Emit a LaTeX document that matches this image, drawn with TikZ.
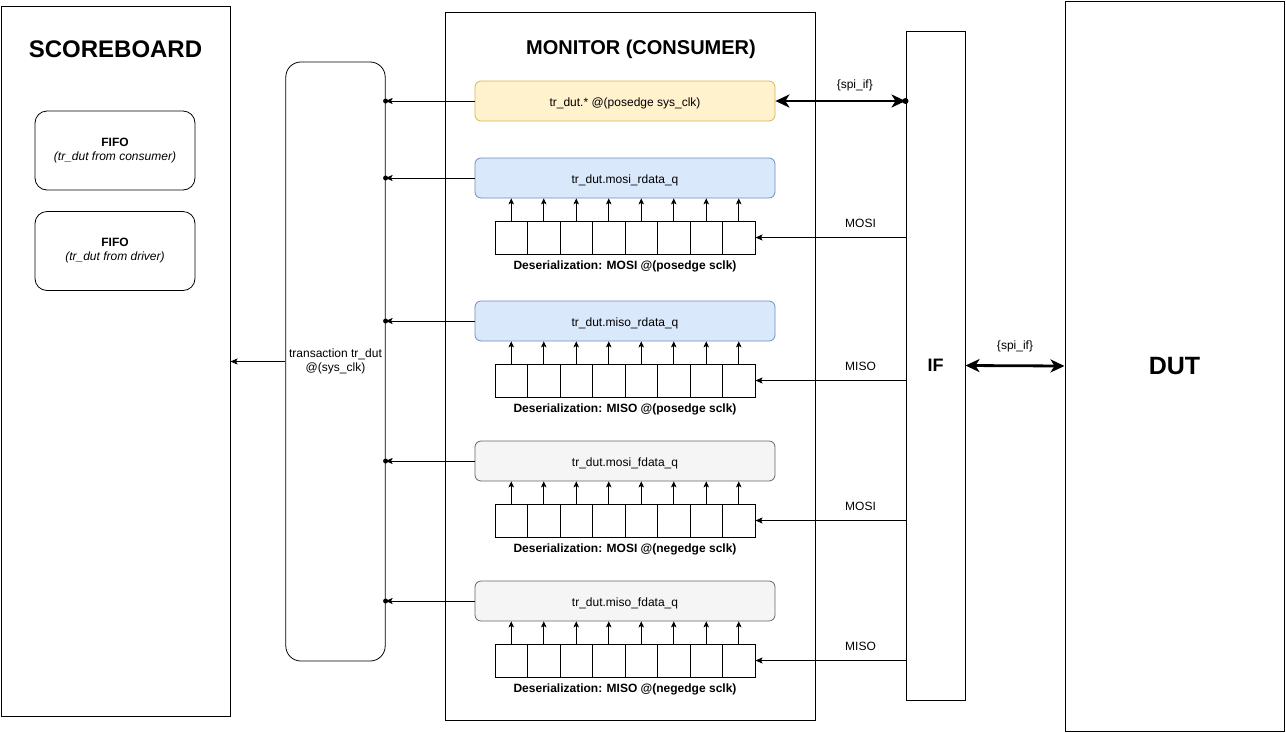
\documentclass[tikz,border=0pt]{standalone}
\usepackage{fontspec}
\setmainfont{Liberation Sans}
\usepackage{tikz}
\usetikzlibrary{arrows.meta}
\definecolor{yelfill}{HTML}{FFF2CC}
\definecolor{yeldraw}{HTML}{D6B656}
\definecolor{bluefill}{HTML}{DAE8FC}
\definecolor{bluedraw}{HTML}{6C8EBF}
\definecolor{grayfill}{HTML}{F5F5F5}
\definecolor{graydraw}{HTML}{666666}
\tikzset{
  blk/.style={draw, line width=1pt, inner sep=0pt},
  ttl/.style={font=\fontsize{24}{28}\selectfont\bfseries, inner sep=0pt},
  fifo/.style={draw, line width=0.8pt, rounded corners=12pt, minimum width=160pt, minimum height=79pt, align=center, font=\fontsize{12}{14}\selectfont},
  box/.style={draw, line width=0.8pt, rounded corners=6pt, minimum width=300pt, minimum height=40pt, text height=11pt, text depth=0pt, font=\fontsize{12}{14}\selectfont},
  cell/.style={draw, line width=1pt, minimum width=32.5pt, minimum height=33pt, inner sep=0pt},
  reglbl/.style={font=\fontsize{12}{14}\selectfont\bfseries, inner sep=0pt},
  sig/.style={font=\fontsize{12}{14}\selectfont, inner sep=1pt},
  flow/.style={-{Stealth[length=7pt, width=6pt, inset=1.5pt]}, line width=0.8pt},
  bit/.style={-{Stealth[length=6pt, width=5.5pt, inset=1.5pt]}, line width=0.8pt},
  bus/.style={{Stealth[length=14pt, width=13pt, inset=4pt]}-{Stealth[length=14pt, width=13pt, inset=4pt]}, line width=2.8pt},
}
\begin{document}
\begin{tikzpicture}[x=1pt, y=-1pt]
\useasboundingbox (0,0) rectangle (1286,732);
% big blocks
\node[blk, minimum width=229pt, minimum height=710pt] (sb) at (115.5,361) {};
\node[ttl] (sbttl) at (115.5,49) {SCOREBOARD};
\node[blk, minimum width=370pt, minimum height=708pt] (mon) at (630,366) {};
\node[ttl, font=\fontsize{20}{24}\selectfont\bfseries] (monttl) at (641,49) {MONITOR (CONSUMER)};
\node[blk, minimum width=59pt, minimum height=669pt, font=\fontsize{18}{22}\selectfont\bfseries] (ifb) at (935.5,365.5) {IF};
\node[blk, minimum width=219pt, minimum height=730pt, font=\fontsize{25}{29}\selectfont\bfseries] (dut) at (1174.5,366) {DUT};
% scoreboard fifos
\node[fifo] (fifoc) at (115,150.5) {\textbf{FIFO}\\\textit{(tr\_dut from consumer)}};
\node[fifo] (fifod) at (115,251) {\textbf{FIFO}\\\textit{(tr\_dut from driver)}};
\node[fifo, rounded corners=15pt, minimum width=99pt, minimum height=599pt] (trx) at (335.5,361.5) {transaction tr\_dut\\@(sys\_clk)};
% monitor fields
\node[box, fill=yelfill, draw=yeldraw] (clk) at (625,101) {tr\_dut.* @(posedge sys\_clk)};
\node[box, fill=bluefill, draw=bluedraw] (mosir) at (625,178) {tr\_dut.mosi\_rdata\_q};
\node[box, fill=bluefill, draw=bluedraw] (misor) at (625,321) {tr\_dut.miso\_rdata\_q};
\node[box, fill=grayfill, draw=graydraw] (mosif) at (625,461) {tr\_dut.mosi\_fdata\_q};
\node[box, fill=grayfill, draw=graydraw] (misof) at (625,601) {tr\_dut.miso\_fdata\_q};
% shift registers
\foreach \q/\ry/\sg/\edg in {mosir/237.5/MOSI/posedge, misor/380.5/MISO/posedge, mosif/520.5/MOSI/negedge, misof/660.5/MISO/negedge}{
  \foreach \i in {1,...,8}{
    \node[cell] (\q\i) at ({495+32.5*(\i-0.5)},\ry) {};
    \draw[bit] (\q\i.north) -- (\q\i.north |- \q.south);
  }
  \node[reglbl] (\q lbl) at (625,{\ry+29}) {Deserialization: \sg{} @(\edg{} sclk)};
  \draw[flow] (ifb.west |- \q8.east) -- (\q8.east) node[sig, pos=0.3, above=8pt] {\sg};
  \draw[flow] (\q.west) -- (trx.east |- \q.west);
  \fill (trx.east |- \q.west) circle (2.5pt);
}
\draw[flow] (clk.west) -- (trx.east |- clk.west);
\fill (trx.east |- clk.west) circle (2.5pt);
\draw[flow] (trx.west) -- (sb.east |- trx.west);
% spi_if buses
\draw[bus] (clk.east) -- (ifb.west |- clk.east) node[sig, pos=0.61, above=8pt]{\{spi\_if\}};
\fill (ifb.west |- clk.east) circle (3pt);
\draw[bus] (ifb.east) -- (dut.west) node[sig, midway, above=11pt]{\{spi\_if\}};
\end{tikzpicture}
\end{document}
